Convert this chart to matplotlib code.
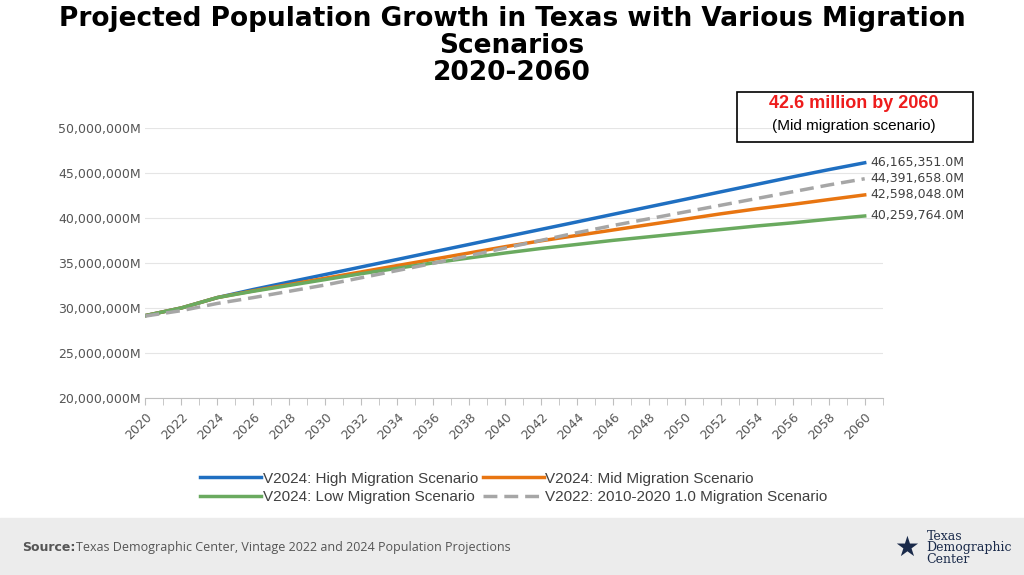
import matplotlib.pyplot as plt
from matplotlib.ticker import FuncFormatter, MultipleLocator

years = list(range(2020, 2061, 2))
high = [29.20, 30.05, 31.20, 32.10, 32.93, 33.76, 34.60, 35.43, 36.27, 37.10, 37.94,
        38.77, 39.60, 40.44, 41.27, 42.10, 42.94, 43.77, 44.60, 45.40, 46.165351]
mid = [29.20, 30.05, 31.20, 31.95, 32.65, 33.35, 34.05, 34.75, 35.45, 36.15, 36.85,
       37.50, 38.10, 38.70, 39.30, 39.90, 40.50, 41.05, 41.55, 42.08, 42.598048]
low = [29.20, 30.05, 31.20, 31.90, 32.55, 33.20, 33.85, 34.45, 35.05, 35.60, 36.15,
       36.65, 37.10, 37.55, 37.95, 38.35, 38.75, 39.15, 39.50, 39.90, 40.259764]
v2022 = [29.15, 29.75, 30.55, 31.20, 31.90, 32.60, 33.40, 34.20, 35.00, 35.85, 36.70,
         37.55, 38.40, 39.20, 39.95, 40.70, 41.45, 42.20, 42.95, 43.70, 44.391658]

fig = plt.figure(figsize=(10.24, 5.75), dpi=100)
fig.patches.append(plt.Rectangle((0, 0), 1, 0.1, transform=fig.transFigure,
                                 color="#ececec", zorder=-1))
ax = fig.add_axes([0.142, 0.307, 0.72, 0.47])

scale = 1e6
h1, = ax.plot(years, [v * scale for v in high], color="#1f6fc1", lw=2.5, label="V2024: High Migration Scenario")
h2, = ax.plot(years, [v * scale for v in mid], color="#e87511", lw=2.5, label="V2024: Mid Migration Scenario")
h3, = ax.plot(years, [v * scale for v in low], color="#6aaa5f", lw=2.5, label="V2024: Low Migration Scenario")
h4, = ax.plot(years, [v * scale for v in v2022], color="#a6a6a6", lw=2.5, ls=(0, (4, 2)),
              label="V2022: 2010-2020 1.0 Migration Scenario")

ax.set_xlim(2020, 2061)
ax.set_ylim(20e6, 50e6)
ax.yaxis.set_major_locator(MultipleLocator(5e6))
ax.yaxis.set_major_formatter(FuncFormatter(lambda v, p: f"{v:,.0f}M"))
ax.set_xticks(years)
ax.xaxis.set_minor_locator(MultipleLocator(1))
ax.tick_params(axis="x", which="both", length=5, color="#bfbfbf", labelsize=9, labelcolor="#555555")
ax.tick_params(axis="y", length=0, labelsize=9, labelcolor="#555555")
plt.setp(ax.get_xticklabels(), rotation=45, ha="right", rotation_mode="anchor")
ax.grid(axis="y", color="#e5e5e5")
for s in ["top", "right", "left"]:
    ax.spines[s].set_visible(False)
ax.spines["bottom"].set_color("#bfbfbf")

for series in [high, v2022, mid, low]:
    ax.text(2060.3, series[-1] * scale, f"{series[-1] * scale:,.1f}M", fontsize=9,
            color="#404040", va="center")

# order so rows read High/Mid then Low/V2022
ax.legend([h1, h3, h2, h4], [h.get_label() for h in [h1, h3, h2, h4]],
          loc="upper center", bbox_to_anchor=(0.5, -0.22), ncol=2, frameon=False,
          prop={"family": "Liberation Sans", "size": 11}, handlelength=4,
          columnspacing=0.3, handletextpad=0.1, labelspacing=0.3, labelcolor="#404040")

fig.text(0.5, 0.99, "Projected Population Growth in Texas with Various Migration\nScenarios\n2020-2060",
         ha="center", va="top", fontsize=19, fontweight="bold", family="DejaVu Sans", linespacing=1.05)

fig.text(0.834, 0.812, "42.6 million by 2060", ha="center", fontsize=13, fontweight="bold",
         color="#ee1c1c", family="Liberation Sans")
fig.text(0.834, 0.774, "(Mid migration scenario)", ha="center", fontsize=11, family="Liberation Sans")
fig.patches.append(plt.Rectangle((0.72, 0.753), 0.23, 0.087, transform=fig.transFigure,
                                 fill=False, ec="black", lw=1.2))

fig.text(0.022, 0.047, "Source:", fontsize=9, fontweight="bold", color="#555555", va="center")
fig.text(0.074, 0.047, "Texas Demographic Center, Vintage 2022 and 2024 Population Projections",
         fontsize=9, color="#555555", va="center", family="Open Sans")
fig.text(0.905, 0.047, "Texas\nDemographic\nCenter", fontsize=9, family="DejaVu Serif",
         color="#1a2a4a", va="center", linespacing=0.85)
fig.text(0.885, 0.047, "\u2605", fontsize=20, color="#1a2a4a", va="center", ha="center")

fig.savefig("out.png", dpi=100)
